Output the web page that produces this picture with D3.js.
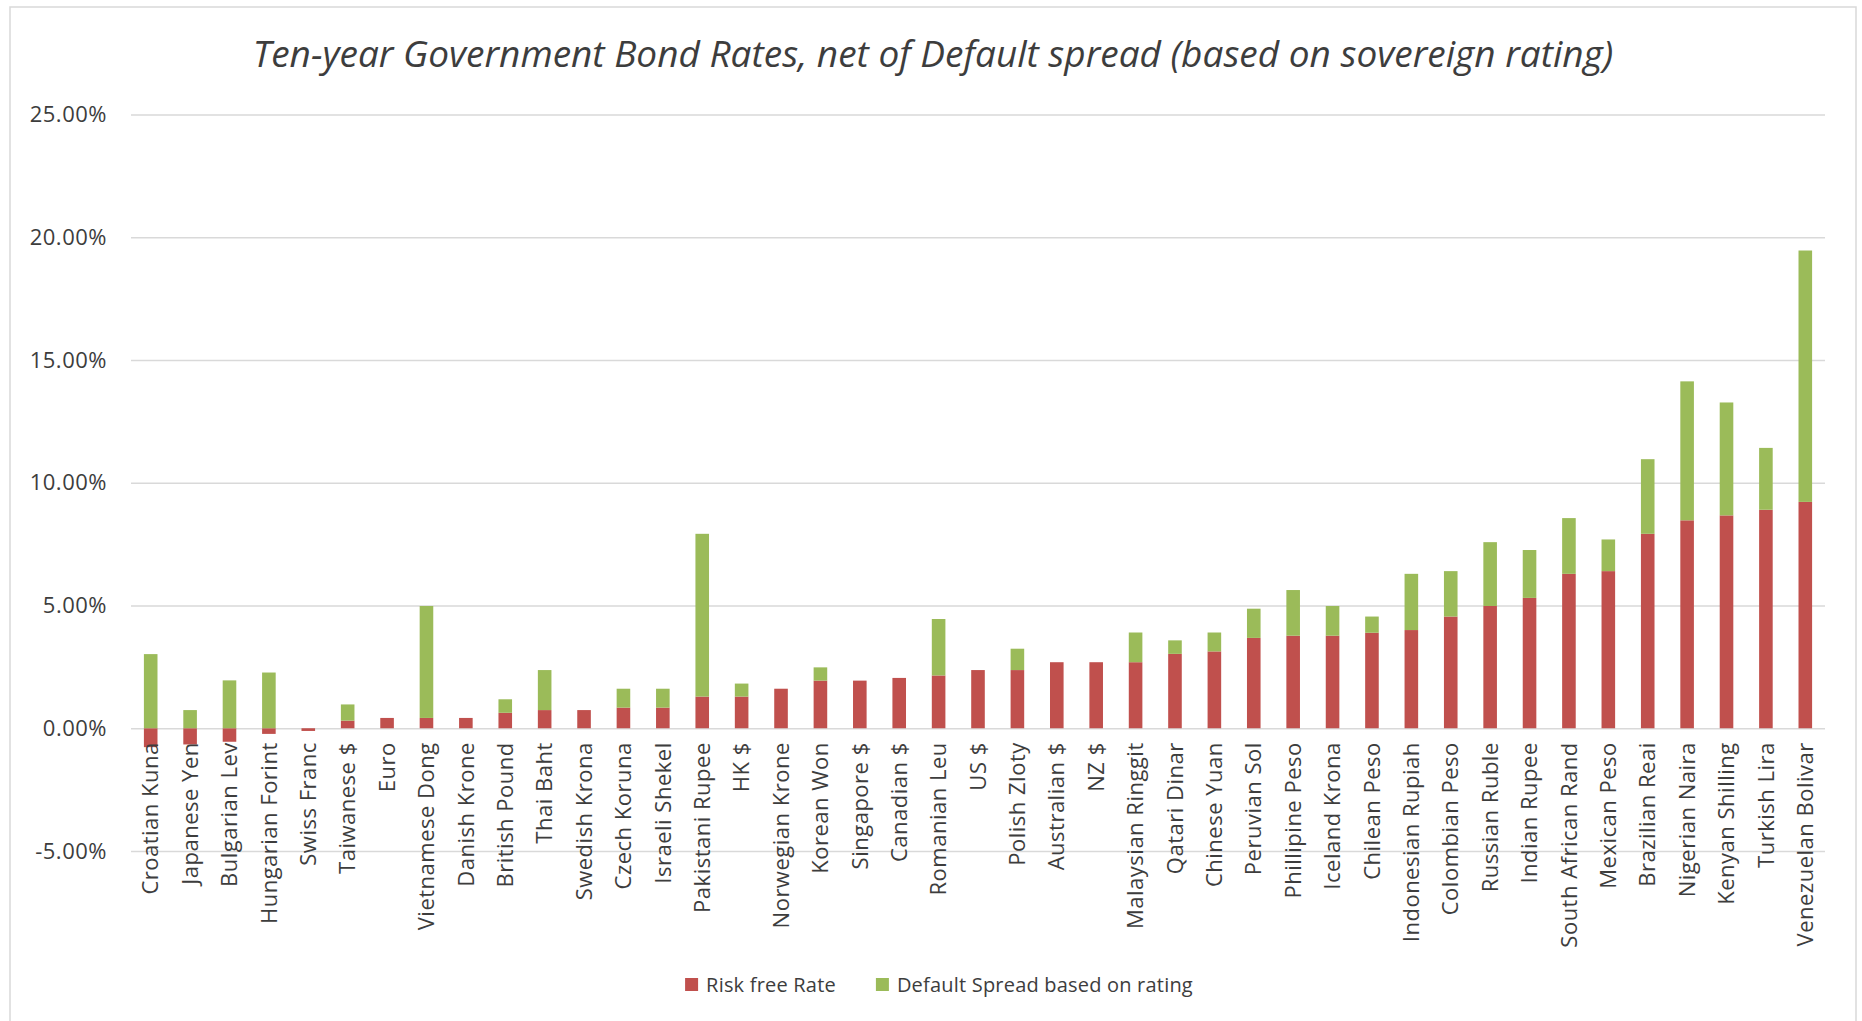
<!DOCTYPE html>
<html>
<head>
<meta charset="utf-8">
<script src="https://cdn.jsdelivr.net/npm/d3@7"></script>
<style>
body{margin:0;background:#fff;}
svg text{font-family:"Open Sans",sans-serif;fill:#3d3d3d;}
</style>
</head>
<body>
<svg id="chart" width="1862" height="1021"></svg>
<script>
var currencies = ["Croatian Kuna","Japanese Yen","Bulgarian Lev","Hungarian Forint","Swiss Franc","Taiwanese $","Euro",
	"Vietnamese Dong","Danish Krone","British Pound","Thai Baht","Swedish Krona","Czech Koruna","Israeli Shekel",
	"Pakistani Rupee","HK $","Norwegian Krone","Korean Won","Singapore $","Canadian $","Romanian Leu","US $",
	"Polish Zloty","Australian $","NZ $","Malaysian Ringgit","Qatari Dinar","Chinese Yuan","Peruvian Sol",
	"Phillipine Peso","Iceland Krona","Chilean Peso","Indonesian Rupiah","Colombian Peso","Russian Ruble",
	"Indian Rupee","South African Rand","Mexican Peso","Brazilian Reai","Nigerian Naira","Kenyan Shilling",
	"Turkish Lira","Venezuelan Bolivar"];

// percent values
var riskFree = [-0.77,-0.66,-0.55,-0.23,-0.11,0.31,0.42,0.42,0.42,0.63,0.74,0.74,0.84,0.84,1.29,1.29,1.61,1.94,1.94,
	2.05,2.15,2.37,2.37,2.69,2.69,2.69,3.03,3.13,3.68,3.77,3.77,3.89,4.00,4.55,4.98,5.31,6.29,6.40,7.92,8.47,8.67,8.90,9.22];
var spread = [3.02,0.74,1.95,2.27,0,0.66,0,4.56,0,0.55,1.63,0,0.77,0.77,6.63,0.53,0,0.54,0,0,2.30,0,0.87,0,0,1.21,
	0.55,0.77,1.19,1.86,1.21,0.66,2.29,1.85,2.60,1.95,2.27,1.29,3.04,5.66,4.60,2.52,10.24];

var seriesNames = ["Risk free Rate","Default Spread based on rating"];
var seriesColors = ["#C0504D","#9BBB59"];
var yTicks = [-5,0,5,10,15,20,25];
var titleText = "Ten-year Government Bond Rates, net of Default spread (based on sovereign rating)";

var svg = d3.select("#chart");
var plotLeft = 131, plotRight = 1825, chartCenter = 933;

// chart frame
svg.append("rect")
	.attr("x",10).attr("y",7).attr("width",1846).attr("height",1040)
	.attr("fill","none").attr("stroke","#d9d9d9").attr("stroke-width",1.5);

var x = d3.scaleBand().domain(currencies).range([plotLeft,plotRight])
	.paddingInner(0.655).paddingOuter(0.3275);
var y = d3.scaleLinear().domain([-5,25]).range([851,114.5]);

var yAxis = svg.append("g")
	.attr("transform","translate(" + plotLeft + ",0)")
	.call(d3.axisLeft(y).tickValues(yTicks)
		.tickSizeInner(-(plotRight - plotLeft)).tickSizeOuter(0).tickPadding(24)
		.tickFormat(function(d){ return d.toFixed(2) + "%"; }));
yAxis.select(".domain").remove();
yAxis.selectAll(".tick line").attr("stroke","#d9d9d9").attr("stroke-width",1.5);
yAxis.selectAll(".tick text").style("font-size","22px").style("letter-spacing","0.5px");

var rows = currencies.map(function(c, i){
	return {name: c, rf: riskFree[i], ds: spread[i]};
});
var stacked = d3.stack().keys(["rf","ds"]).offset(d3.stackOffsetDiverging)(rows);

svg.append("g").selectAll("g")
	.data(stacked)
	.enter().append("g")
		.attr("fill", function(d, i){ return seriesColors[i]; })
	.selectAll("rect")
	.data(function(d){ return d; })
	.enter().append("rect")
		.attr("x", function(d){ return x(d.data.name); })
		.attr("width", x.bandwidth())
		.attr("y", function(d){ return y(Math.max(d[0], d[1])); })
		.attr("height", function(d){ return Math.abs(y(d[0]) - y(d[1])); });

var xAxis = svg.append("g")
	.attr("transform","translate(0," + y(0) + ")")
	.call(d3.axisBottom(x).tickSize(0));
xAxis.select(".domain").remove();
xAxis.selectAll(".tick text")
	.style("font-size","22px")
	.style("letter-spacing","0.5px")
	.attr("text-anchor","end")
	.attr("transform","rotate(-90)")
	.attr("x",-14).attr("y",0).attr("dy","0.35em");

// title
var title = svg.append("text")
	.attr("x",chartCenter).attr("y",67)
	.attr("text-anchor","middle")
	.style("font-style","italic")
	.style("font-size","32px")
	.text(titleText);
var tw = title.node().getComputedTextLength();
title.style("font-size", (32 * 1361 / tw) + "px");

// legend
var legend = svg.append("g");
var lx = 0;
seriesNames.forEach(function(name, i){
	var item = legend.append("g").attr("transform","translate(" + lx + ",0)");
	item.append("rect").attr("x",0).attr("y",-7).attr("width",13).attr("height",13).attr("fill",seriesColors[i]);
	var t = item.append("text").attr("x",21).attr("y",0).attr("dy","0.35em")
		.style("font-size","20px").style("letter-spacing","0.2px").text(name);
	lx += 21 + t.node().getComputedTextLength() + 40;
});
lx -= 40;
legend.attr("transform","translate(" + (939 - lx / 2) + ",985)");
</script>
</body>
</html>
